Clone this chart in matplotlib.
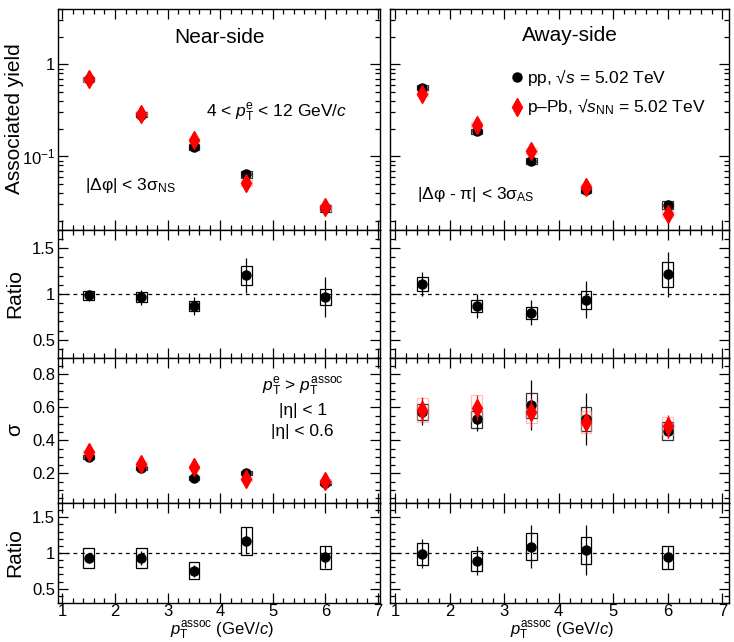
import numpy as np
import matplotlib
matplotlib.use('Agg')
import matplotlib.pyplot as plt
from matplotlib.ticker import MultipleLocator, FixedLocator, FuncFormatter, NullFormatter, LogLocator

plt.rcParams['font.family'] = ['Liberation Sans', 'DejaVu Sans']
plt.rcParams['mathtext.fontset'] = 'custom'
plt.rcParams['mathtext.rm'] = 'Liberation Sans'
plt.rcParams['mathtext.it'] = 'Liberation Sans:italic'
plt.rcParams['mathtext.bf'] = 'Liberation Sans:bold'

# associated pT bins (GeV/c)
pt = [1.5, 2.5, 3.5, 4.5, 6.0]

# associated yields
ns_yield_pp = [0.687, 0.284, 0.126, 0.0637, 0.0271]
ns_yield_ppb = [0.69, 0.291, 0.149, 0.0513, 0.028]
as_yield_pp = [0.558, 0.187, 0.0889, 0.0434, 0.0296]
as_yield_ppb = [0.48, 0.221, 0.114, 0.0464, 0.0238]
yield_stat_rel = [0.02, 0.03, 0.05, 0.06, 0.12]
yield_sys_rel = [0.06, 0.06, 0.07, 0.08, 0.09]

# yield ratio p-Pb / pp
ns_ratio = [0.985, 0.963, 0.87, 1.203, 0.97]
ns_ratio_stat = [0.06, 0.078, 0.10, 0.19, 0.22]
ns_ratio_sys = [0.05, 0.055, 0.057, 0.10, 0.09]
as_ratio = [1.11, 0.867, 0.796, 0.937, 1.214]
as_ratio_stat = [0.13, 0.13, 0.14, 0.20, 0.25]
as_ratio_sys = [0.078, 0.065, 0.065, 0.10, 0.135]

# peak widths
ns_sigma_pp = [0.298, 0.233, 0.172, 0.202, 0.141]
ns_sigma_ppb = [0.328, 0.257, 0.237, 0.166, 0.154]
ns_sigma_stat = [0.01, 0.01, 0.01, 0.015, 0.015]
ns_sigma_sys = [0.012, 0.01, 0.01, 0.01, 0.01]
as_sigma_pp = [0.573, 0.527, 0.614, 0.529, 0.456]
as_sigma_pp_stat = [0.08, 0.07, 0.15, 0.16, 0.04]
as_sigma_pp_sys = [0.05, 0.05, 0.076, 0.074, 0.056]
as_sigma_ppb = [0.584, 0.598, 0.57, 0.512, 0.486]
as_sigma_ppb_stat = [0.08, 0.076, 0.09, 0.076, 0.07]
as_sigma_ppb_sys = [0.074, 0.08, 0.065, 0.065, 0.055]

# width ratio p-Pb / pp
ns_sigma_ratio = [0.929, 0.93, 0.751, 1.17, 0.943]
ns_sigma_ratio_stat = [0.07, 0.1, 0.08, 0.19, 0.15]
ns_sigma_ratio_sys = [0.14, 0.14, 0.12, 0.2, 0.16]
as_sigma_ratio = [0.99, 0.894, 1.086, 1.037, 0.943]
as_sigma_ratio_stat = [0.2, 0.2, 0.3, 0.35, 0.16]
as_sigma_ratio_sys = [0.157, 0.14, 0.19, 0.19, 0.16]

W, H = 734, 642
fig = plt.figure(figsize=(W / 100, H / 100), dpi=100)

# panel edges in pixels
cols = [(58, 380), (390, 729)]
rows = [(9, 230), (230, 358), (358, 503), (503, 603)]
xlims = [(0.916, 7.04), (0.91, 7.12)]

def make_ax(c, r):
    x0, x1 = cols[c]
    y0, y1 = rows[r]
    return fig.add_axes([x0 / W, (H - y1) / H, (x1 - x0) / W, (y1 - y0) / H])

def style(ax, c, r):
    ax.set_xlim(xlims[c])
    ax.xaxis.set_major_locator(MultipleLocator(1))
    ax.xaxis.set_minor_locator(MultipleLocator(0.2))
    ax.tick_params(which='both', direction='in', top=True, right=True, labelsize=12, width=0.9)
    ax.tick_params(which='major', length=7)
    ax.tick_params(which='minor', length=3.5)
    ax.tick_params(axis='x', pad=1)
    ax.tick_params(axis='y', pad=2)
    for sp in ax.spines.values():
        sp.set_linewidth(1.0)
    if r < 3:
        ax.tick_params(labelbottom=False)
    if c == 1:
        ax.tick_params(labelleft=False)

def sys_boxes(ax, x, y, s, color, alpha=1.0):
    y = np.array(y)
    s = np.array(s)
    ax.bar(x, 2 * s, bottom=y - s, width=0.2, fill=False, edgecolor=color, linewidth=0.9, alpha=alpha, zorder=2)

def ratio_panel(ax, y, stat, sys):
    sys_boxes(ax, pt, y, sys, 'black')
    ax.errorbar(pt, y, yerr=stat, fmt='o', color='black', ms=6.5, elinewidth=0.9, capsize=0, zorder=4)
    ax.axhline(1, color='black', linestyle=(0, (3, 3)), linewidth=0.9, zorder=1)
    ax.set_ylim(0.3, 1.7)
    ax.yaxis.set_major_locator(FixedLocator([0.5, 1.0, 1.5]))
    ax.yaxis.set_minor_locator(MultipleLocator(0.1))
    ax.yaxis.set_major_formatter(FuncFormatter(lambda v, p: '{:g}'.format(v)))

def two_series(ax, ypp, pp_stat, pp_sys, yppb, ppb_stat, ppb_sys):
    sys_boxes(ax, pt, ypp, pp_sys, '#333333')
    sys_boxes(ax, pt, yppb, ppb_sys, '#ff9999', alpha=0.6)
    ax.errorbar(pt, ypp, yerr=pp_stat, fmt='o', color='black', ms=6.5, elinewidth=0.9, capsize=0, zorder=4)
    ax.errorbar(pt, yppb, yerr=ppb_stat, fmt='d', color='red', ms=9, elinewidth=0.9, capsize=0, zorder=5)

# yields
for c, (ypp, yppb) in enumerate([(ns_yield_pp, ns_yield_ppb), (as_yield_pp, as_yield_ppb)]):
    ax = make_ax(c, 0)
    ax.set_yscale('log')
    pp_stat = np.array(ypp) * np.array(yield_stat_rel)
    ppb_stat = np.array(yppb) * np.array(yield_stat_rel)
    pp_sys = np.array(ypp) * np.array(yield_sys_rel)
    ppb_sys = np.array(yppb) * np.array(yield_sys_rel)
    two_series(ax, ypp, pp_stat, pp_sys, yppb, ppb_stat, ppb_sys)
    ax.set_ylim(0.0158, 4.0)
    ax.yaxis.set_major_locator(FixedLocator([0.1, 1.0]))
    ax.yaxis.set_minor_locator(LogLocator(base=10, subs=np.arange(2, 10), numticks=20))
    ax.yaxis.set_major_formatter(FuncFormatter(lambda v, p: '1' if v == 1 else r'$10^{-1}$'))
    ax.yaxis.set_minor_formatter(NullFormatter())
    style(ax, c, 0)
    if c == 0:
        ax.text(0.503, 0.873, 'Near-side', transform=ax.transAxes, ha='center', va='center', fontsize=15)
        ax.text(0.68, 0.53, r'4 < $p_{\mathrm{T}}^{\mathrm{e}}$ < 12 GeV/$c$', transform=ax.transAxes,
                ha='center', va='center', fontsize=12.5)
        ax.text(0.084, 0.20, r'|Δφ| < 3σ$_{\mathrm{NS}}$', transform=ax.transAxes,
                ha='left', va='center', fontsize=12.5)
    else:
        ax.text(0.53, 0.88, 'Away-side', transform=ax.transAxes, ha='center', va='center', fontsize=15)
        ax.plot([0.374], [0.692], 'o', color='black', ms=6.5, transform=ax.transAxes, clip_on=False)
        ax.plot([0.374], [0.557], 'd', color='red', ms=9, transform=ax.transAxes, clip_on=False)
        ax.text(0.405, 0.692, r'pp, √$s$ = 5.02 TeV', transform=ax.transAxes,
                ha='left', va='center', fontsize=12.5)
        ax.text(0.405, 0.557, r'p–Pb, √$s_{\mathrm{NN}}$ = 5.02 TeV', transform=ax.transAxes,
                ha='left', va='center', fontsize=12.5)
        ax.text(0.08, 0.16, r'|Δφ - π| < 3σ$_{\mathrm{AS}}$', transform=ax.transAxes,
                ha='left', va='center', fontsize=12.5)

# yield ratios
ax = make_ax(0, 1)
ratio_panel(ax, ns_ratio, ns_ratio_stat, ns_ratio_sys)
style(ax, 0, 1)
ax = make_ax(1, 1)
ratio_panel(ax, as_ratio, as_ratio_stat, as_ratio_sys)
style(ax, 1, 1)

# widths
ax = make_ax(0, 2)
two_series(ax, ns_sigma_pp, ns_sigma_stat, ns_sigma_sys, ns_sigma_ppb, ns_sigma_stat, ns_sigma_sys)
ax.set_ylim(0.02, 0.9)
ax.yaxis.set_major_locator(FixedLocator([0.2, 0.4, 0.6, 0.8]))
ax.yaxis.set_minor_locator(MultipleLocator(0.05))
style(ax, 0, 2)
ax.text(0.76, 0.80, r'$p_{\mathrm{T}}^{\mathrm{e}}$ > $p_{\mathrm{T}}^{\mathrm{assoc}}$', transform=ax.transAxes,
        ha='center', va='center', fontsize=12.5)
ax.text(0.76, 0.64, '|η| < 1', transform=ax.transAxes, ha='center', va='center', fontsize=12.5)
ax.text(0.76, 0.49, '|η| < 0.6', transform=ax.transAxes, ha='center', va='center', fontsize=12.5)

ax = make_ax(1, 2)
two_series(ax, as_sigma_pp, as_sigma_pp_stat, as_sigma_pp_sys, as_sigma_ppb, as_sigma_ppb_stat, as_sigma_ppb_sys)
ax.set_ylim(0.02, 0.9)
ax.yaxis.set_major_locator(FixedLocator([0.2, 0.4, 0.6, 0.8]))
ax.yaxis.set_minor_locator(MultipleLocator(0.05))
style(ax, 1, 2)

# width ratios
ax = make_ax(0, 3)
ratio_panel(ax, ns_sigma_ratio, ns_sigma_ratio_stat, ns_sigma_ratio_sys)
style(ax, 0, 3)
ax = make_ax(1, 3)
ratio_panel(ax, as_sigma_ratio, as_sigma_ratio_stat, as_sigma_ratio_sys)
style(ax, 1, 3)

# axis titles
fig.text(15 / W, 1 - 119 / H, 'Associated yield', rotation=90, ha='center', va='center', fontsize=15)
fig.text(15 / W, 1 - 294 / H, 'Ratio', rotation=90, ha='center', va='center', fontsize=15)
fig.text(15 / W, 1 - 430 / H, 'σ', rotation=90, ha='center', va='center', fontsize=15)
fig.text(15 / W, 1 - 553 / H, 'Ratio', rotation=90, ha='center', va='center', fontsize=15)
for xc in [222, 562]:
    fig.text(xc / W, 0.5 / H, r'$p_{\mathrm{T}}^{\mathrm{assoc}}$ (GeV/$c$)', ha='center', va='bottom', fontsize=12)

plt.savefig('out.png', dpi=100)
